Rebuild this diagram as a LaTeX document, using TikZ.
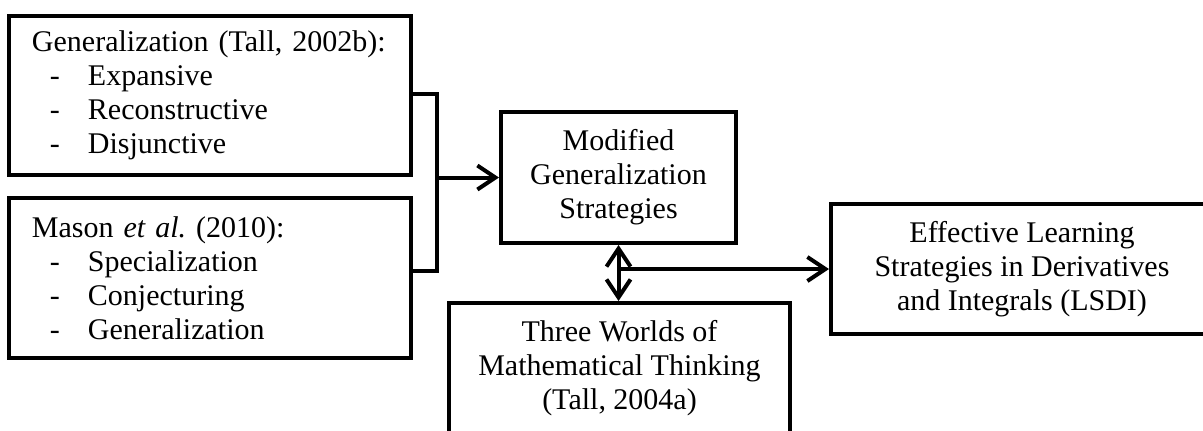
\documentclass[tikz,border=0pt]{standalone}
\usepackage{fontspec}
\setmainfont{Liberation Serif}
\usetikzlibrary{arrows.meta,calc}

\tikzset{
    box/.style={draw, line width=2pt, inner sep=0pt, font=\fontsize{15}{17}\selectfont},
    listbox/.style={box, align=left, text width=178pt, inner xsep=11.5pt},
    midbox/.style={box, align=center},
    barb/.tip={Straight Barb[length=9pt,width=12pt]}
}
\newcommand{\dashitem}[1]{\makebox[28pt][l]{\hspace{9pt}-}#1}

\begin{document}
\begin{tikzpicture}[x=0.5pt, y=-0.5pt, >=barb, line width=2pt]
    \useasboundingbox (0,0) rectangle (1203,430);

    \node[listbox, minimum height=79.5pt] (gen) at (210,95.5)
        {Generalization (Tall, 2002b):\\ \dashitem{Expansive}\\ \dashitem{Reconstructive}\\ \dashitem{Disjunctive}};
    \node[listbox, minimum height=80pt] (mason) at (210,278)
        {Mason \textit{et al.}\ (2010):\\ \dashitem{Specialization}\\ \dashitem{Conjecturing}\\ \dashitem{Generalization}};

    \node[midbox, minimum width=117.5pt, minimum height=65.5pt] (mod) at (618.5,177.5)
        {Modified\\ Generalization\\ Strategies};
    \node[midbox, minimum width=170.5pt, minimum height=65.5pt, anchor=north] (worlds) at (619.5,301)
        {Three Worlds of\\ Mathematical Thinking\\ (Tall, 2004a)};
    \node[midbox, minimum width=191pt, minimum height=65pt] (lsdi) at (1022,269)
        {Effective Learning\\ Strategies in Derivatives\\ and Integrals (LSDI)};

    % bracket joining the two lists
    \coordinate (jn) at ($(mod.west)+(-62,0)$);
    \draw ($(gen.east)+(0,-1.5)$) -| (jn) |- ($(mason.east)+(0,-7)$);
    \draw[->] (jn) -- (mod.west);

    \draw[<->] (mod.south) -- (mod.south |- worlds.north);
    \coordinate (split) at (mod.south |- lsdi.west);
    \draw[->] (split) -- (lsdi.west);

\end{tikzpicture}
\end{document}
